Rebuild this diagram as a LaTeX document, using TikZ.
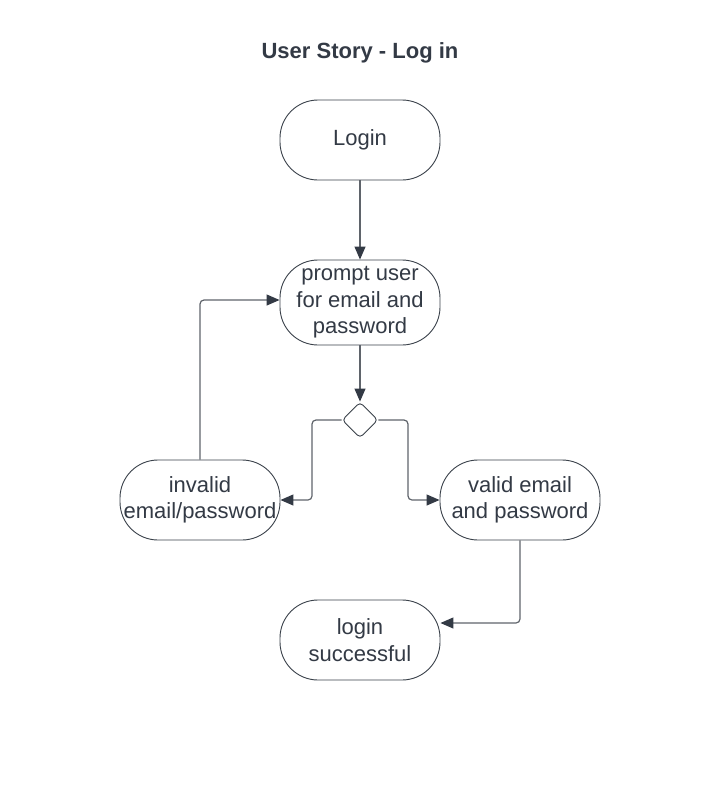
\documentclass[tikz,border=0pt]{standalone}
\usepackage{fontspec}
\setmainfont{Liberation Sans}
\usetikzlibrary{arrows.meta,shapes.geometric}
\definecolor{txt}{HTML}{333A45}
\definecolor{edge}{HTML}{3A414A}
\definecolor{conn}{HTML}{5F646B}
\tikzset{
  term/.style={draw=edge, line width=0.9pt, fill=white, rounded corners=38pt,
    minimum width=160pt, minimum height=80pt, inner sep=0pt, align=center,
    text=txt, font=\fontsize{22}{26.5}\selectfont},
  dec/.style={draw=edge, line width=0.9pt, fill=white, diamond, minimum width=36pt,
    minimum height=36pt, inner sep=0pt, rounded corners=4pt},
  conn/.style={draw=conn, line width=1.2pt, rounded corners=4pt,
    -{Triangle[length=13pt,width=11pt,color=txt]}}
}
\begin{document}
\begin{tikzpicture}[x=1pt,y=-1pt]
\useasboundingbox (0,0) rectangle (728,788);
\node[text=txt, font=\bfseries\fontsize{22}{26}\selectfont] (title) at (360,53) {User Story - Log in};
\node[term] (login) at (360,140) {Login};
\node[term, minimum height=85pt] (prompt) at (360,302.5) {prompt user\\for email and\\password};
\node[dec] (d) at (360,420) {};
\node[term] (inv) at (200,500) {invalid\\email/password};
\node[term] (val) at (520,500) {valid email\\and password};
\node[term] (succ) at (360,640) {login\\successful};
\draw[conn] (login.south) -- (prompt.north);
\draw[conn] (prompt.south) -- (d.north);
\draw[conn] (d.west) -- (312,420) -- (312,500) -- (inv.east);
\draw[conn] (d.east) -- (408,420) -- (408,500) -- (val.west);
\draw[conn] (inv.north) -- (200,300) -- (prompt.west |- 0,300);
\draw[conn] (val.south) -- (520,623) -- (succ.east |- 0,623);
\end{tikzpicture}
\end{document}
